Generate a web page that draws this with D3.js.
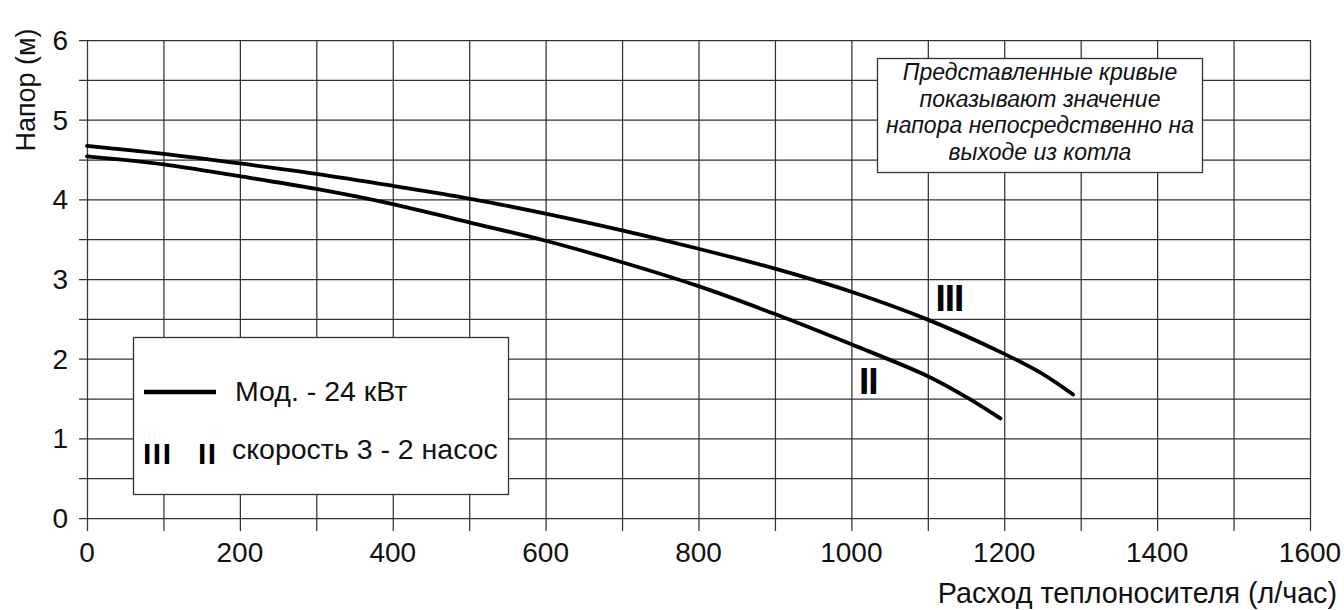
<!DOCTYPE html>
<html>
<head>
<meta charset="utf-8">
<script src="https://cdn.jsdelivr.net/npm/d3@7"></script>
<style>
  body { margin: 0; background: #fff; }
  svg { display: block; font-family: "Liberation Sans", Arial, sans-serif; }
  .grid line { stroke: #333; stroke-width: 1.25; }
  .grid .domain { display: none; }
  .tick-label { font-size: 28px; fill: #111; }
</style>
</head>
<body>
<div id="chart"></div>
<script>
// data
const flowIII = [0, 100, 200, 300, 400, 500, 600, 700, 800, 900, 1000, 1100, 1200, 1250, 1290];
const headIII = [4.67, 4.57, 4.45, 4.32, 4.17, 4.01, 3.82, 3.61, 3.38, 3.13, 2.84, 2.49, 2.06, 1.81, 1.55];
const flowII = [0, 100, 200, 300, 400, 500, 600, 700, 800, 900, 1000, 1100, 1150, 1195];
const headII = [4.54, 4.44, 4.29, 4.13, 3.94, 3.71, 3.48, 3.21, 2.91, 2.56, 2.18, 1.78, 1.52, 1.25];
const xTickLabels = [0, 200, 400, 600, 800, 1000, 1200, 1400, 1600];
const yTickLabels = [0, 1, 2, 3, 4, 5, 6];
const noteLines = ['Представленные кривые', 'показывают значение', 'напора непосредственно на', 'выходе из котла'];
const legendItems = ['Мод. - 24 кВт', 'скорость 3 - 2 насос'];

const W = 1344, H = 610;
const margin = { top: 40, right: 34, bottom: 92, left: 87 };
const width = W - margin.left - margin.right;
const height = H - margin.top - margin.bottom;

const svg = d3.select('#chart').append('svg')
  .attr('width', W)
  .attr('height', H);

const g = svg.append('g')
  .attr('transform', `translate(${margin.left},${margin.top})`);

const x = d3.scaleLinear().domain([0, 1600]).range([0, width]);
const y = d3.scaleLinear().domain([0, 6]).range([height, 0]);

// vertical grid, extending below the axis as ticks
g.append('g')
  .attr('class', 'grid')
  .attr('transform', `translate(0,${height + 13})`)
  .call(d3.axisBottom(x).tickValues(d3.range(0, 1601, 100)).tickSize(-(height + 13)).tickFormat(''));

// horizontal grid, extending left of the axis as ticks
g.append('g')
  .attr('class', 'grid')
  .attr('transform', 'translate(-8,0)')
  .call(d3.axisLeft(y).tickValues(d3.range(0, 6.01, 0.5)).tickSize(-(width + 8)).tickFormat(''));

// tick labels
g.selectAll('.x-label')
  .data(xTickLabels)
  .join('text')
  .attr('class', 'tick-label')
  .attr('x', d => x(d))
  .attr('y', height + 44)
  .attr('text-anchor', 'middle')
  .text(d => d);

g.selectAll('.y-label')
  .data(yTickLabels)
  .join('text')
  .attr('class', 'tick-label')
  .attr('x', -19)
  .attr('y', d => y(d) + 10)
  .attr('text-anchor', 'end')
  .text(d => d);

// axis titles
svg.append('text')
  .attr('transform', 'translate(35,90) rotate(-90)')
  .attr('text-anchor', 'middle')
  .style('font-size', '27px')
  .style('fill', '#111')
  .text('Напор (м)');

svg.append('text')
  .attr('x', 1337)
  .attr('y', 603)
  .attr('text-anchor', 'end')
  .style('font-size', '28.7px')
  .style('fill', '#111')
  .text('Расход теплоносителя (л/час)');

// curves
const line = d3.line()
  .x(d => x(d[0]))
  .y(d => y(d[1]))
  .curve(d3.curveCatmullRom.alpha(0.5));

const curves = [
  { name: 'III', pts: d3.zip(flowIII, headIII) },
  { name: 'II', pts: d3.zip(flowII, headII) }
];

g.selectAll('.curve')
  .data(curves)
  .join('path')
  .attr('class', 'curve')
  .attr('d', d => line(d.pts))
  .attr('fill', 'none')
  .attr('stroke', '#000')
  .attr('stroke-width', 3.8)
  .attr('stroke-linecap', 'round');

// curve labels
g.append('text')
  .attr('x', x(1110))
  .attr('y', y(2.5) - 8)
  .style('font-size', '37px')
  .style('font-weight', 'bold')
  .style('letter-spacing', '-1px')
  .text('III');

g.append('text')
  .attr('x', x(1010))
  .attr('y', y(1.5) - 5)
  .style('font-size', '37px')
  .style('font-weight', 'bold')
  .style('letter-spacing', '-1px')
  .text('II');

// note box
const note = svg.append('g');
note.append('rect')
  .attr('x', 877.5).attr('y', 58.5)
  .attr('width', 325).attr('height', 114)
  .attr('fill', '#fff')
  .attr('stroke', '#333')
  .attr('stroke-width', 1.3);
note.selectAll('text')
  .data(noteLines)
  .join('text')
  .attr('x', 1040)
  .attr('y', (d, i) => 80 + i * 26.6)
  .attr('text-anchor', 'middle')
  .style('font-size', '23px')
  .style('font-style', 'italic')
  .style('fill', '#111')
  .text(d => d);

// legend box
const legend = svg.append('g');
legend.append('rect')
  .attr('x', 133.5).attr('y', 337.5)
  .attr('width', 375).attr('height', 157)
  .attr('fill', '#fff')
  .attr('stroke', '#333')
  .attr('stroke-width', 1.3);
legend.append('line')
  .attr('x1', 144).attr('x2', 216)
  .attr('y1', 392).attr('y2', 392)
  .attr('stroke', '#000')
  .attr('stroke-width', 4.5);
legend.append('text')
  .attr('x', 143).attr('y', 464)
  .style('font-size', '30px')
  .style('font-weight', 'bold')
  .style('letter-spacing', '1.5px')
  .text('III');
legend.append('text')
  .attr('x', 198).attr('y', 464)
  .style('font-size', '30px')
  .style('font-weight', 'bold')
  .style('letter-spacing', '1.5px')
  .text('II');
legend.selectAll('.legend-text')
  .data(legendItems)
  .join('text')
  .attr('class', 'legend-text')
  .attr('x', (d, i) => i === 0 ? 235 : 232)
  .attr('y', (d, i) => i === 0 ? 401 : 459)
  .style('font-size', '28.5px')
  .style('fill', '#111')
  .text(d => d);
</script>
</body>
</html>
